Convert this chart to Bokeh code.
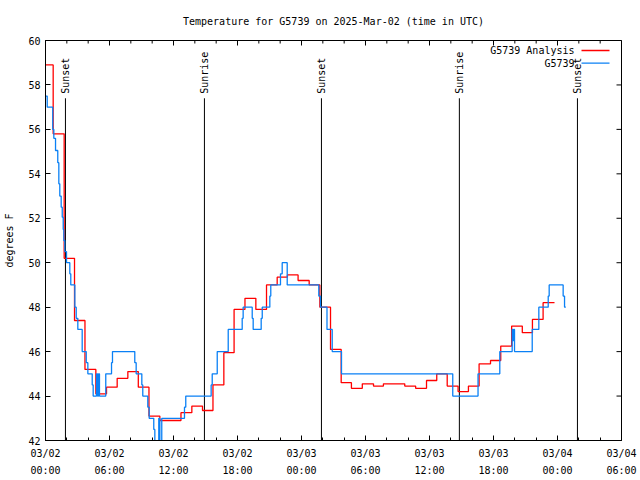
from math import pi

from bokeh.plotting import figure
from bokeh.models import (Range1d, FixedTicker, LinearAxis, Label, Arrow, Grid)
from bokeh.core.properties import value
from bokeh.embed import file_html
from bokeh.resources import INLINE

FONT = "DejaVu Sans Mono"
FS = "10px"

title_text = "Temperature for G5739 on 2025-Mar-02 (time in UTC)"
y_label = "degrees F"
series_names = ["G5739 Analysis", "G5739"]
series_colors = ["#ff0000", "#0a80f5"]

# hours since 2025-03-02 00:00 UTC
analysis_hours = [0.0, 0.72, 1.75, 2.72, 3.70, 4.72, 5.72, 6.72, 7.72, 8.70,
                  9.70, 10.72, 11.72, 12.70, 13.72, 14.72, 15.70, 16.72, 17.68, 18.70,
                  19.72, 20.72, 21.72, 22.68, 23.68, 24.72, 25.72, 26.72, 27.72, 28.68,
                  29.70, 30.75, 31.68, 32.68, 33.68, 34.70, 35.72, 36.68, 37.66, 38.68,
                  39.65, 40.65, 41.72, 42.68, 43.70, 44.70, 45.65, 46.65, 47.72]
analysis_temp = [58.9, 55.8, 50.2, 47.4, 45.2, 44.1, 44.4, 44.8, 45.1, 44.4,
                 43.1, 42.9, 42.9, 43.25, 43.55, 43.35, 44.5, 45.95, 47.9, 48.4,
                 47.9, 49.0, 49.35, 49.45, 49.2, 49.0, 48.0, 46.1, 44.6, 44.35,
                 44.55, 44.45, 44.55, 44.55, 44.45, 44.35, 44.7, 45.0, 44.45, 44.2,
                 44.45, 45.45, 45.6, 46.25, 47.15, 46.85, 47.45, 48.2, 48.2]

obs_hours = [0.0, 0.16, 0.68, 0.78, 0.94, 1.15, 1.25, 1.34, 1.47, 1.57,
             1.66, 1.72, 1.81, 1.97, 2.28, 2.37, 2.75, 2.88, 3.03, 3.44,
             3.82, 3.97, 4.38, 4.47, 4.78, 4.88, 4.97, 5.06, 5.65, 6.19,
             6.28, 8.37, 8.50, 9.03, 9.12, 9.59, 9.72, 10.15, 10.25, 10.62,
             10.72, 10.90, 13.03, 13.15, 15.53, 15.63, 16.10, 17.13, 18.44, 18.53,
             19.38, 19.47, 20.22, 20.32, 21.03, 21.12, 22.03, 22.19, 22.66, 25.62,
             25.78, 26.39, 26.88, 27.75, 38.18, 40.55, 42.59, 43.75, 43.83, 43.90,
             43.97, 45.63, 46.25, 47.13, 47.22, 48.53, 48.66, 48.78]
obs_temp = [57.5, 57.0, 56.0, 55.6, 55.05, 54.5, 53.55, 53.0, 52.5, 52.05,
            51.5, 51.0, 50.5, 50.0, 49.5, 49.0, 48.0, 47.5, 47.0, 46.0,
            45.5, 45.0, 44.5, 44.0, 45.0, 44.0, 45.0, 44.0, 45.0, 45.5,
            46.0, 45.5, 45.0, 44.5, 44.0, 43.5, 43.0, 42.5, 41.6, 43.0,
            41.6, 43.0, 43.5, 44.0, 44.5, 45.0, 46.0, 47.0, 47.5, 48.0,
            47.5, 47.0, 47.5, 48.0, 48.5, 49.0, 49.5, 50.0, 49.0, 48.5,
            48.0, 47.0, 46.0, 45.0, 44.0, 45.0, 46.0, 47.0, 46.5, 47.0,
            46.0, 47.0, 48.0, 48.5, 49.0, 48.5, 48.0, 48.0]

sun_hours = [1.87, 14.90, 25.87, 38.80, 49.87]
sun_labels = ["Sunset", "Sunrise", "Sunset", "Sunrise", "Sunset"]

x_ticks = [0, 6, 12, 18, 24, 30, 36, 42, 48, 54]
x_minor = list(range(0, 55, 2))
x_tick_dates = ["03/02", "03/02", "03/02", "03/02", "03/03", "03/03", "03/03", "03/03", "03/04", "03/04"]
x_tick_times = ["00:00", "06:00", "12:00", "18:00", "00:00", "06:00", "12:00", "18:00", "00:00", "06:00"]
y_ticks = [42, 44, 46, 48, 50, 52, 54, 56, 58, 60]

X0, X1 = 0, 54
Y0, Y1 = 42, 60
SUN_LINE_TOP = 57.4
SUN_TEXT_Y = 57.6
MAJOR_TICK = 5
MINOR_TICK = 3

p = figure(width=640, height=480, x_range=Range1d(X0, X1), y_range=Range1d(Y0, Y1),
           output_backend="svg", toolbar_location=None,
           x_axis_location=None, y_axis_location=None,
           min_border_left=45, min_border_right=19, min_border_top=40, min_border_bottom=40)
p.background_fill_color = "white"
p.border_fill_color = "white"
p.outline_line_color = "black"
p.outline_line_width = 1
for r in p.center:
    if isinstance(r, Grid):
        r.visible = False

p.title.text = title_text
p.title.align = "center"
p.title.text_font = FONT
p.title.text_font_size = FS
p.title.text_font_style = "normal"
p.title.text_color = "black"
p.title.standoff = 27

xt = FixedTicker(ticks=x_ticks, minor_ticks=x_minor)
yt = FixedTicker(ticks=y_ticks, minor_ticks=[])


def base_axis(ticker, **kw):
    return LinearAxis(ticker=ticker, major_tick_in=MAJOR_TICK, major_tick_out=0,
                      minor_tick_in=MINOR_TICK, minor_tick_out=0,
                      axis_line_color="black", major_tick_line_color="black",
                      minor_tick_line_color="black",
                      major_label_text_font=FONT, major_label_text_font_size=FS,
                      major_label_text_color="black", **kw)


bottom1 = base_axis(xt, major_label_standoff=7,
                    major_label_overrides={t: d for t, d in zip(x_ticks, x_tick_dates)})
bottom2 = base_axis(xt, major_label_standoff=3,
                    major_label_overrides={t: s for t, s in zip(x_ticks, x_tick_times)})
bottom2.axis_line_color = None
bottom2.major_tick_line_color = None
bottom2.minor_tick_line_color = None
p.add_layout(bottom1, "below")
p.add_layout(bottom2, "below")

left = base_axis(yt, major_label_standoff=5, axis_label=y_label,
                 axis_label_text_font=FONT, axis_label_text_font_size=FS,
                 axis_label_text_font_style="normal", axis_label_text_color="black",
                 axis_label_standoff=10)
p.add_layout(left, "left")

# mirrored inward ticks on the top and right borders (half of each dash is clipped by the frame)
p.scatter(x=x_ticks, y=[Y1] * len(x_ticks), marker="dash", angle=pi / 2,
          size=2 * MAJOR_TICK, line_color="black", line_width=1)
p.scatter(x=x_minor, y=[Y1] * len(x_minor), marker="dash", angle=pi / 2,
          size=2 * MINOR_TICK, line_color="black", line_width=1)
p.scatter(x=[X1] * len(y_ticks), y=y_ticks, marker="dash",
          size=2 * MAJOR_TICK, line_color="black", line_width=1)

# sunrise / sunset markers
p.segment(x0=sun_hours, y0=[Y0] * len(sun_hours), x1=sun_hours,
          y1=[SUN_LINE_TOP] * len(sun_hours), line_color="black", line_width=1)
p.text(x=sun_hours, y=[SUN_TEXT_Y] * len(sun_hours), text=sun_labels, angle=pi / 2,
       text_align="left", text_baseline="middle", text_font=value(FONT),
       text_font_size=value(FS), text_color="black")

p.step(analysis_hours, analysis_temp, mode="after", line_color=series_colors[0], line_width=1.3)
p.step(obs_hours, obs_temp, mode="after", line_color=series_colors[1], line_width=1.3)

# gnuplot-style key: text right-aligned, line sample to its right
KEY_TEXT_X, KEY_LINE_X0, KEY_LINE_X1, KEY_Y0, KEY_DY = 529, 536, 564, 390, 12.6
for i, (name, col) in enumerate(zip(series_names, series_colors)):
    ky = KEY_Y0 - KEY_DY * i
    p.add_layout(Label(x=KEY_TEXT_X, y=ky, x_units="screen", y_units="screen",
                       text=name, text_align="right", text_baseline="middle",
                       text_font=FONT, text_font_size=FS, text_color="black"))
    p.add_layout(Arrow(end=None, x_start=KEY_LINE_X0, y_start=ky, x_end=KEY_LINE_X1, y_end=ky,
                       start_units="screen", end_units="screen",
                       line_color=col, line_width=1.3))

open("out.html", "w").write(file_html(p, INLINE))
